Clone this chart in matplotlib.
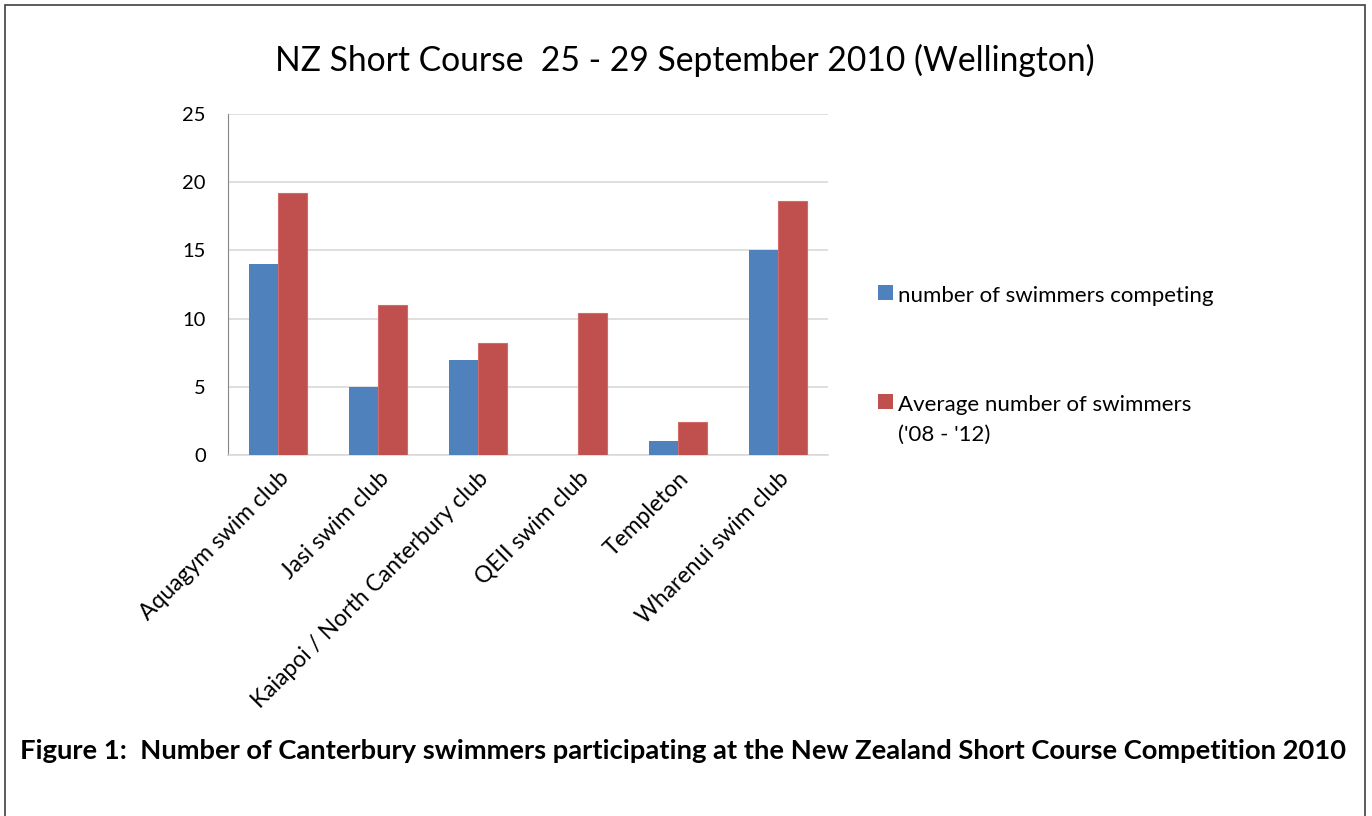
import matplotlib
matplotlib.use('Agg')
import matplotlib.pyplot as plt
import numpy as np
from matplotlib.patches import Rectangle

plt.rcParams['font.family'] = ['Lato', 'DejaVu Sans']

# data
clubs = ['Aquagym swim club', 'Jasi swim club', 'Kaiapoi / North Canterbury club',
         'QEII swim club', 'Templeton', 'Wharenui swim club']
competing = [14, 5, 7, 0, 1, 15]
average = [19.2, 11.0, 8.2, 10.4, 2.4, 18.6]
series_names = ['number of swimmers competing', "Average number of swimmers\n('08 - '12)"]
y_ticks = [0, 5, 10, 15, 20, 25]

blue = '#4F81BD'
red = '#C0504D'
W, H = 1372, 816

fig = plt.figure(figsize=(13.72, 8.16), dpi=100)
ax = fig.add_axes([228 / W, 1 - 455 / H, 600 / W, 341 / H])

x = np.arange(len(clubs))
w = 0.29
b1 = ax.bar(x - w / 2, competing, w, color=blue, zorder=3)
b2 = ax.bar(x + w / 2, average, w, color=red, edgecolor='#D46A67', linewidth=0.8,
            zorder=3)

ax.set_xlim(-0.5, len(clubs) - 0.5)
ax.set_ylim(0, 25)
ax.set_yticks(y_ticks)
ax.yaxis.grid(True, color='#D9D9D9', linewidth=1.2, zorder=0)
ax.tick_params(axis='y', length=0, labelsize=14.5, pad=16)
ax.tick_params(axis='x', length=0, labelsize=16.5, pad=9)
ax.set_xticks(x)
ax.set_xticklabels(clubs, rotation=45, ha='right', rotation_mode='anchor')
for s in ['top', 'right']:
    ax.spines[s].set_visible(False)
ax.spines['left'].set_color('#868686')
ax.spines['bottom'].set_color('#D9D9D9')
ax.spines['bottom'].set_linewidth(1.2)

# legend drawn by hand so the square sits on the first text line
legend_y = [293, 402]
for name, col, ly in zip(series_names, [blue, red], legend_y):
    fig.patches.append(Rectangle((878 / W, 1 - (ly + 7) / H), 15 / W, 15 / H,
                                 transform=fig.transFigure, facecolor=col,
                                 edgecolor='none'))
    fig.text(898 / W, 1 - (ly - 7) / H, name, ha='left', va='top',
             fontsize=16, linespacing=1.6)

fig.text(685 / W, 1 - 60 / H, 'NZ Short Course  25 - 29 September 2010 (Wellington)',
         ha='center', va='center', fontsize=24.2)
fig.text(20 / W, 1 - 751 / H,
         'Figure 1:  Number of Canterbury swimmers participating at the New Zealand Short Course Competition 2010',
         ha='left', va='center', fontsize=19.7, fontweight='bold')

# outer border
fig.patches.append(Rectangle((5 / W, -0.05), 1360 / W, 1.05 - 5 / H,
                             transform=fig.transFigure, fill=False,
                             edgecolor='#404040', linewidth=1.2))

fig.savefig('out.png', dpi=100)
